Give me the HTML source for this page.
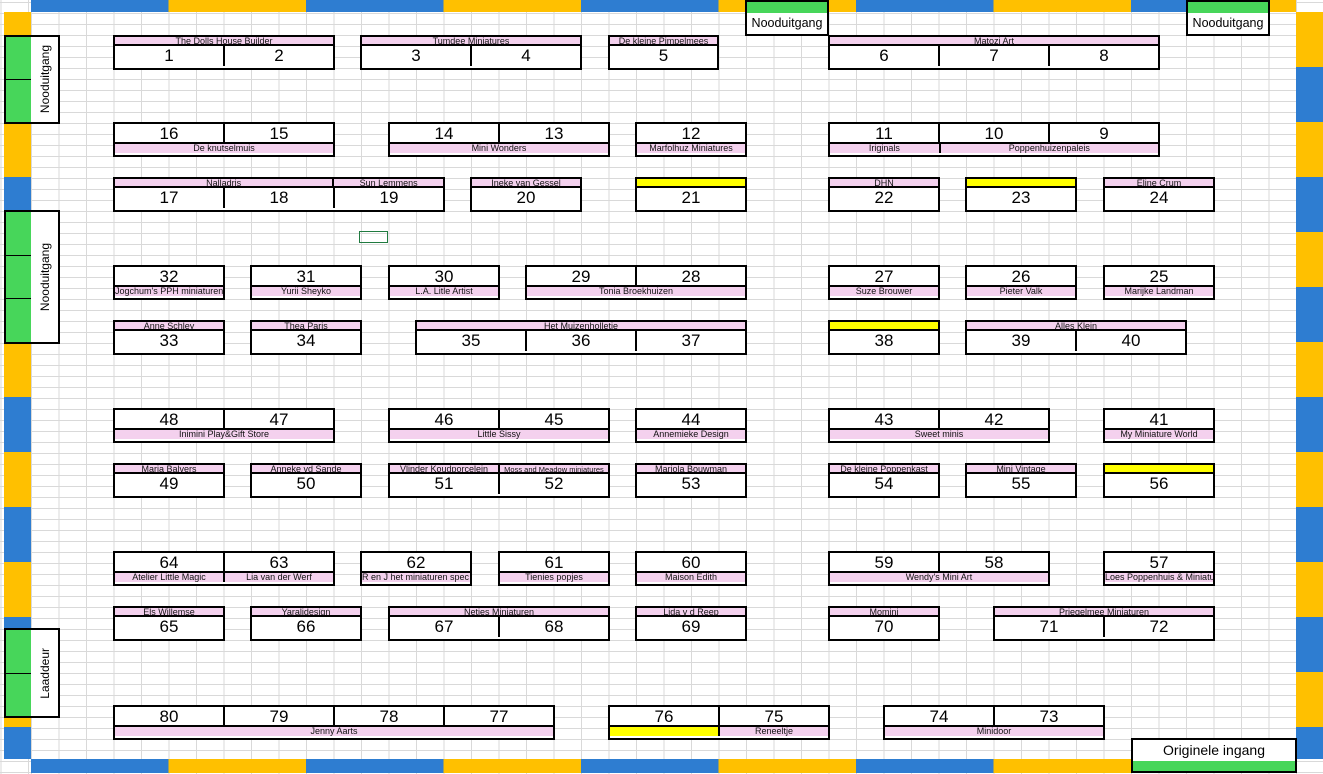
<!DOCTYPE html>
<html><head><meta charset="utf-8"><style>
*{box-sizing:border-box;margin:0;padding:0}
body{width:1323px;height:774px;position:relative;overflow:hidden;font-family:"Liberation Sans",sans-serif;
background-color:#fff;
background-image:repeating-linear-gradient(90deg,#d9d9d9 0 1px,transparent 1px 27.5px),repeating-linear-gradient(180deg,#d9d9d9 0 1px,transparent 1px 11px);
background-position:31px 0,0 2px;}
.a{position:absolute}
.hs{background:repeating-linear-gradient(90deg,#2e7dd1 0 137.5px,#ffc000 137.5px 275px)}
.vs{background:repeating-linear-gradient(180deg,#ffc000 0 55px,#2e7dd1 55px 110px)}
.g{position:absolute;height:35px;border:2px solid #000;background:#fff;display:flex;flex-direction:column}
.l{height:9px;display:flex;background:#f4d1ee}
.l span{flex:1;font-family:"Liberation Sans Narrow","Liberation Sans",sans-serif;font-size:9px;line-height:9px;text-align:center;white-space:nowrap;overflow:hidden;color:#111}
.l span+span{border-left:2px solid #000}
.n{height:20px;display:flex}
.n span{flex:1;font-size:17px;line-height:20px;text-align:center}
.n span+span{border-left:2px solid #000}
.t{border-bottom:2px solid #000}
.y{background:#ffff00}
.ex{position:absolute;border:2px solid #000;background:#fff;font-size:12.5px;text-align:center}
.lb{position:absolute;border:2px solid #000;display:flex}
.lb .gr{width:25px;background:#47d65a;display:flex;flex-direction:column}
.lb .gr div{flex:1}
.lb .gr div+div{border-top:1.5px solid #000}
.lb .tx{flex:1;background:#fff;display:flex;align-items:center;justify-content:center}
.lb .tx span{writing-mode:vertical-rl;transform:rotate(180deg);font-size:12px}
</style></head><body>
<div class="a hs" style="left:31px;top:0;width:1265px;height:12px"></div>
<div class="a hs" style="left:31px;top:759px;width:1265px;height:14px"></div>
<div class="a vs" style="left:4px;top:12px;width:27px;height:747px"></div>
<div class="a vs" style="left:1296px;top:12px;width:27px;height:747px"></div>

<div class="ex" style="left:745px;top:0;width:84px;height:36px"><div style="height:11px;background:#47d65a"></div><div style="line-height:20px">Nooduitgang</div></div>
<div class="ex" style="left:1186px;top:0;width:84px;height:36px"><div style="height:11px;background:#47d65a"></div><div style="line-height:20px">Nooduitgang</div></div>
<div class="ex" style="left:1131px;top:738px;width:166px;height:35px;font-size:14px"><div style="line-height:21px">Originele ingang</div><div style="height:10px;background:#47d65a"></div></div>

<div class="lb" style="left:4px;top:35px;width:56px;height:89px"><div class="gr"><div></div><div></div></div><div class="tx"><span>Nooduitgang</span></div></div>
<div class="lb" style="left:4px;top:210px;width:56px;height:134px"><div class="gr"><div></div><div></div><div></div></div><div class="tx"><span>Nooduitgang</span></div></div>
<div class="lb" style="left:4px;top:628px;width:56px;height:90px"><div class="gr"><div></div><div></div></div><div class="tx"><span>Laaddeur</span></div></div>

<div class="a" style="left:359px;top:231px;width:29px;height:12px;border:1.5px solid #1f7a3f"></div>

<!-- Row A -->
<div class="g" style="left:113px;top:35px;width:222px"><div class="l t"><span>The Dolls House Builder</span></div><div class="n"><span>1</span><span>2</span></div></div>
<div class="g" style="left:360px;top:35px;width:222px"><div class="l t"><span>Tumdee Miniatures</span></div><div class="n"><span>3</span><span>4</span></div></div>
<div class="g" style="left:608px;top:35px;width:111px"><div class="l t"><span>De kleine Pimpelmees</span></div><div class="n"><span>5</span></div></div>
<div class="g" style="left:828px;top:35px;width:332px"><div class="l t"><span>Matozi Art</span></div><div class="n"><span>6</span><span>7</span><span>8</span></div></div>
<!-- Row B -->
<div class="g" style="left:113px;top:122px;width:222px"><div class="n t"><span>16</span><span>15</span></div><div class="l"><span>De knutselmuis</span></div></div>
<div class="g" style="left:388px;top:122px;width:222px"><div class="n t"><span>14</span><span>13</span></div><div class="l"><span>Mini Wonders</span></div></div>
<div class="g" style="left:635px;top:122px;width:112px"><div class="n t"><span>12</span></div><div class="l"><span>Marfolhuz Miniatures</span></div></div>
<div class="g" style="left:828px;top:122px;width:332px"><div class="n t"><span>11</span><span>10</span><span>9</span></div><div class="l"><span style="flex:1">Iriginals</span><span style="flex:2">Poppenhuizenpaleis</span></div></div>
<!-- Row C -->
<div class="g" style="left:113px;top:177px;width:332px"><div class="l t"><span style="flex:2">Nalladris</span><span style="flex:1">Sun Lemmens</span></div><div class="n"><span>17</span><span>18</span><span>19</span></div></div>
<div class="g" style="left:470px;top:177px;width:112px"><div class="l t"><span>Ineke van Gessel</span></div><div class="n"><span>20</span></div></div>
<div class="g" style="left:635px;top:177px;width:112px"><div class="l t y"><span></span></div><div class="n"><span>21</span></div></div>
<div class="g" style="left:828px;top:177px;width:112px"><div class="l t"><span>DHN</span></div><div class="n"><span>22</span></div></div>
<div class="g" style="left:965px;top:177px;width:112px"><div class="l t y"><span></span></div><div class="n"><span>23</span></div></div>
<div class="g" style="left:1103px;top:177px;width:112px"><div class="l t"><span>Eline Crum</span></div><div class="n"><span>24</span></div></div>
<!-- Row D -->
<div class="g" style="left:113px;top:265px;width:112px"><div class="n t"><span>32</span></div><div class="l"><span>Jogchum's PPH miniaturen</span></div></div>
<div class="g" style="left:250px;top:265px;width:112px"><div class="n t"><span>31</span></div><div class="l"><span>Yurii Sheyko</span></div></div>
<div class="g" style="left:388px;top:265px;width:112px"><div class="n t"><span>30</span></div><div class="l"><span>L.A. Litle Artist</span></div></div>
<div class="g" style="left:525px;top:265px;width:222px"><div class="n t"><span>29</span><span>28</span></div><div class="l"><span>Tonia Broekhuizen</span></div></div>
<div class="g" style="left:828px;top:265px;width:112px"><div class="n t"><span>27</span></div><div class="l"><span>Suze Brouwer</span></div></div>
<div class="g" style="left:965px;top:265px;width:112px"><div class="n t"><span>26</span></div><div class="l"><span>Pieter Valk</span></div></div>
<div class="g" style="left:1103px;top:265px;width:112px"><div class="n t"><span>25</span></div><div class="l"><span>Marijke Landman</span></div></div>
<!-- Row E -->
<div class="g" style="left:113px;top:320px;width:112px"><div class="l t"><span>Anne Schley</span></div><div class="n"><span>33</span></div></div>
<div class="g" style="left:250px;top:320px;width:112px"><div class="l t"><span>Thea Paris</span></div><div class="n"><span>34</span></div></div>
<div class="g" style="left:415px;top:320px;width:332px"><div class="l t"><span>Het Muizenholletje</span></div><div class="n"><span>35</span><span>36</span><span>37</span></div></div>
<div class="g" style="left:828px;top:320px;width:112px"><div class="l t y"><span></span></div><div class="n"><span>38</span></div></div>
<div class="g" style="left:965px;top:320px;width:222px"><div class="l t"><span>Alles Klein</span></div><div class="n"><span>39</span><span>40</span></div></div>
<!-- Row F -->
<div class="g" style="left:113px;top:408px;width:222px"><div class="n t"><span>48</span><span>47</span></div><div class="l"><span>Inimini Play&amp;Gift Store</span></div></div>
<div class="g" style="left:388px;top:408px;width:222px"><div class="n t"><span>46</span><span>45</span></div><div class="l"><span>Little Sissy</span></div></div>
<div class="g" style="left:635px;top:408px;width:112px"><div class="n t"><span>44</span></div><div class="l"><span>Annemieke Design</span></div></div>
<div class="g" style="left:828px;top:408px;width:222px"><div class="n t"><span>43</span><span>42</span></div><div class="l"><span>Sweet minis</span></div></div>
<div class="g" style="left:1103px;top:408px;width:112px"><div class="n t"><span>41</span></div><div class="l"><span>My Miniature World</span></div></div>
<!-- Row G -->
<div class="g" style="left:113px;top:463px;width:112px"><div class="l t"><span>Marja Balvers</span></div><div class="n"><span>49</span></div></div>
<div class="g" style="left:250px;top:463px;width:112px"><div class="l t"><span>Anneke vd Sande</span></div><div class="n"><span>50</span></div></div>
<div class="g" style="left:388px;top:463px;width:222px"><div class="l t"><span>Vlinder Koudporcelein</span><span style="font-size:7.5px">Moss and Meadow miniatures</span></div><div class="n"><span>51</span><span>52</span></div></div>
<div class="g" style="left:635px;top:463px;width:112px"><div class="l t"><span>Mariola Bouwman</span></div><div class="n"><span>53</span></div></div>
<div class="g" style="left:828px;top:463px;width:112px"><div class="l t"><span>De kleine Poppenkast</span></div><div class="n"><span>54</span></div></div>
<div class="g" style="left:965px;top:463px;width:112px"><div class="l t"><span>Mini Vintage</span></div><div class="n"><span>55</span></div></div>
<div class="g" style="left:1103px;top:463px;width:112px"><div class="l t y"><span></span></div><div class="n"><span>56</span></div></div>
<!-- Row H -->
<div class="g" style="left:113px;top:551px;width:222px"><div class="n t"><span>64</span><span>63</span></div><div class="l"><span>Atelier Little Magic</span><span>Lia van der Werf</span></div></div>
<div class="g" style="left:360px;top:551px;width:112px"><div class="n t"><span>62</span></div><div class="l"><span style="text-align:left">R en J het miniaturen spec</span></div></div>
<div class="g" style="left:498px;top:551px;width:112px"><div class="n t"><span>61</span></div><div class="l"><span>Tienies popjes</span></div></div>
<div class="g" style="left:635px;top:551px;width:112px"><div class="n t"><span>60</span></div><div class="l"><span>Maison Edith</span></div></div>
<div class="g" style="left:828px;top:551px;width:222px"><div class="n t"><span>59</span><span>58</span></div><div class="l"><span>Wendy's Mini Art</span></div></div>
<div class="g" style="left:1103px;top:551px;width:112px"><div class="n t"><span>57</span></div><div class="l"><span style="text-align:left">Loes Poppenhuis &amp; Miniatu</span></div></div>
<!-- Row I -->
<div class="g" style="left:113px;top:606px;width:112px"><div class="l t"><span>Els Willemse</span></div><div class="n"><span>65</span></div></div>
<div class="g" style="left:250px;top:606px;width:112px"><div class="l t"><span>Yaralidesign</span></div><div class="n"><span>66</span></div></div>
<div class="g" style="left:388px;top:606px;width:222px"><div class="l t"><span>Netjes Miniaturen</span></div><div class="n"><span>67</span><span>68</span></div></div>
<div class="g" style="left:635px;top:606px;width:112px"><div class="l t"><span>Lida v d Reep</span></div><div class="n"><span>69</span></div></div>
<div class="g" style="left:828px;top:606px;width:112px"><div class="l t"><span>Momini</span></div><div class="n"><span>70</span></div></div>
<div class="g" style="left:993px;top:606px;width:222px"><div class="l t"><span>Priegelmee Miniaturen</span></div><div class="n"><span>71</span><span>72</span></div></div>
<!-- Row J -->
<div class="g" style="left:113px;top:705px;width:442px"><div class="n t"><span>80</span><span>79</span><span>78</span><span>77</span></div><div class="l"><span>Jenny Aarts</span></div></div>
<div class="g" style="left:608px;top:705px;width:222px"><div class="n t"><span>76</span><span>75</span></div><div class="l"><span class="y"></span><span>Reneeltje</span></div></div>
<div class="g" style="left:883px;top:705px;width:222px"><div class="n t"><span>74</span><span>73</span></div><div class="l"><span>Minidoor</span></div></div>
</body></html>
